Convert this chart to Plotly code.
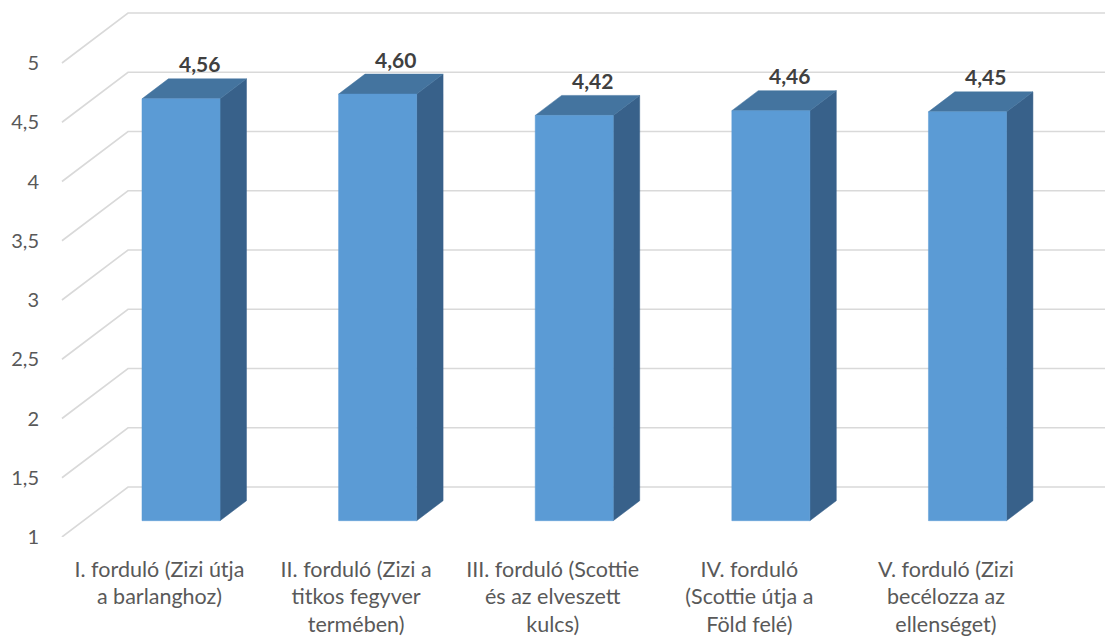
import plotly.graph_objects as go

# ---- data ----
categories = [
    "I. forduló (Zizi útja<br>a barlanghoz)",
    "II. forduló (Zizi a<br>titkos fegyver<br>termében)",
    "III. forduló (Scottie<br>és az elveszett<br>kulcs)",
    "IV. forduló<br>(Scottie útja a<br>Föld felé)",
    "V. forduló (Zizi<br>becélozza az<br>ellenséget)",
]
values = [4.56, 4.60, 4.42, 4.46, 4.45]
tick_vals = [1, 1.5, 2, 2.5, 3, 3.5, 4, 4.5, 5]
tick_text = ["1", "1,5", "2", "2,5", "3", "3,5", "4", "4,5", "5"]

# ---- pseudo-3D geometry (axis units) ----
X_MIN, X_MAX = -0.567, 4.809
Y_MIN, Y_MAX = 1.0, 5.5316
DX, DY = 0.336, 0.422          # full depth offset
F_D, B_D = 0.326, 0.726        # bar front / back depth fraction
BAR_W = 0.397
WALL_X = -0.496                # left front edge of the wall

FRONT = "#5B9BD5"
TOP = "#44749F"
SIDE = "#38618A"
GRID = "#D9D9D9"
FONT = "Lato, sans-serif"


def proj(x, y, d):
    return x + d * DX, y + d * DY


fig = go.Figure()

# gridlines (left wall diagonal + back wall horizontal)
for v in tick_vals:
    p0 = proj(WALL_X, v, 0)
    p1 = proj(WALL_X, v, 1)
    p2 = (X_MAX, v + DY)
    fig.add_trace(go.Scatter(
        x=[p0[0], p1[0], p2[0]], y=[p0[1], p1[1], p2[1]],
        mode="lines", line=dict(color=GRID, width=1.6),
        hoverinfo="skip", showlegend=False, cliponaxis=False))

# bars
for i, v in enumerate(values):
    xl, xr = i - BAR_W / 2, i + BAR_W / 2
    faces = [
        ([proj(xr, Y_MIN, F_D), proj(xr, v, F_D), proj(xr, v, B_D), proj(xr, Y_MIN, B_D)], SIDE),
        ([proj(xl, v, F_D), proj(xr, v, F_D), proj(xr, v, B_D), proj(xl, v, B_D)], TOP),
        ([proj(xl, Y_MIN, F_D), proj(xr, Y_MIN, F_D), proj(xr, v, F_D), proj(xl, v, F_D)], FRONT),
    ]
    for pts, col in faces:
        fig.add_trace(go.Scatter(
            x=[p[0] for p in pts] + [pts[0][0]], y=[p[1] for p in pts] + [pts[0][1]],
            mode="lines", fill="toself", fillcolor=col, line=dict(color=col, width=0.5),
            hoverinfo="skip", showlegend=False))
    # data label
    lx, _ = proj(i, v, (F_D + B_D) / 2)
    fig.add_annotation(
        x=lx, y=v + B_D * DY, text="<b>" + f"{v:.2f}".replace(".", ",") + "</b>",
        showarrow=False, xshift=5, yshift=15, yanchor="middle",
        font=dict(family=FONT, size=21, color="#404040"))

fig.update_layout(
    width=1105, height=639,
    margin=dict(l=48, r=0, t=0, b=102),
    plot_bgcolor="white", paper_bgcolor="white",
    separators=", ",
    font=dict(family=FONT, size=21, color="#595959"),
    xaxis=dict(range=[X_MIN, X_MAX], tickvals=list(range(len(categories))),
               ticktext=categories, showgrid=False, zeroline=False, showline=False,
               ticks="", ticklabelstandoff=17, fixedrange=True, tickfont=dict(size=21.5)),
    yaxis=dict(range=[Y_MIN, Y_MAX], tickvals=tick_vals, ticktext=tick_text,
               showgrid=False, zeroline=False, showline=False, ticks="",
               ticklabelstandoff=8, fixedrange=True, tickfont=dict(size=20)),
)

fig.write_html("out.html", config={"displayModeBar": False},
               post_script="document.body.style.margin='0';")
